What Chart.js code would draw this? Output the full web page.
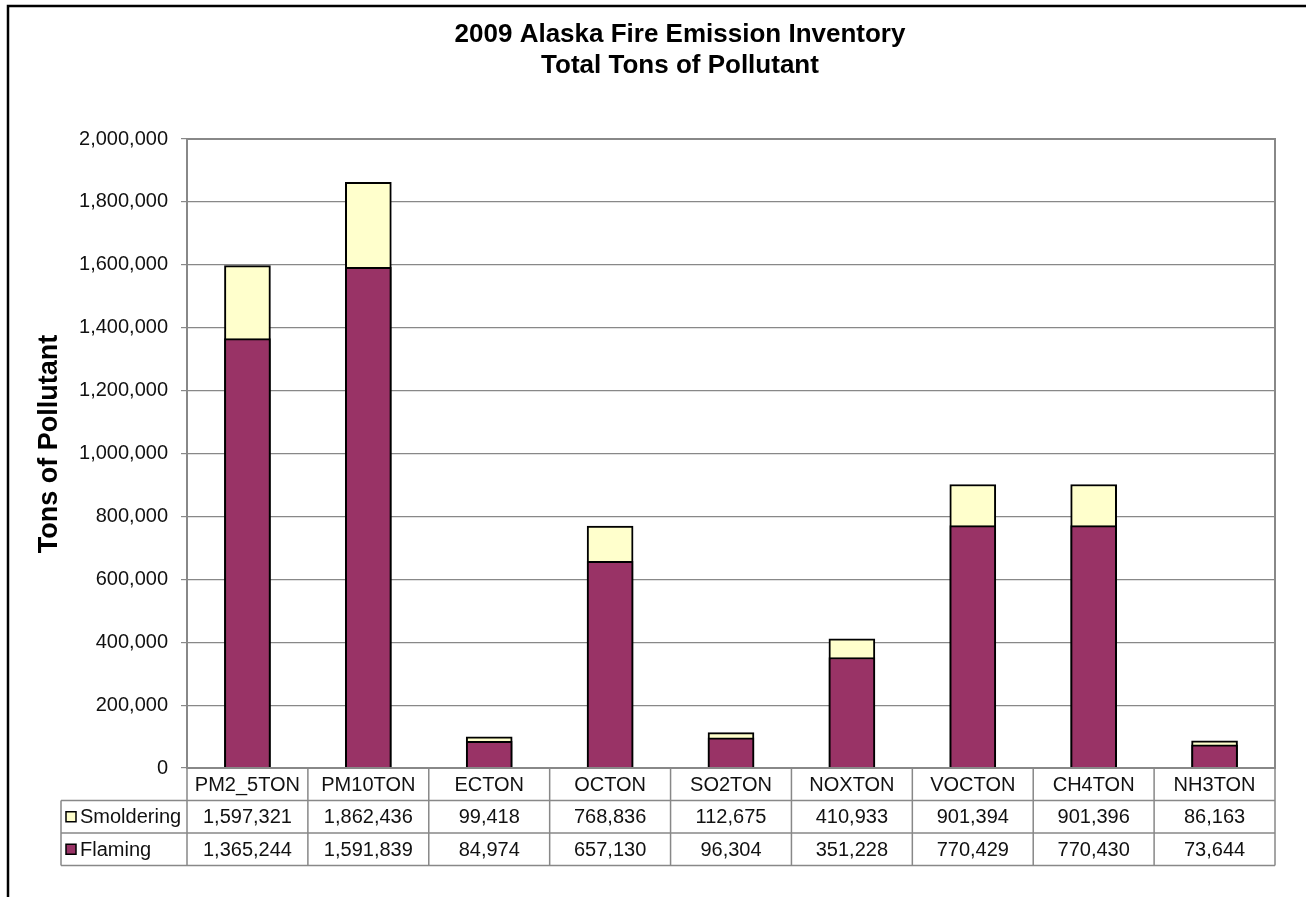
<!DOCTYPE html>
<html lang="en">
<head>
  <meta charset="UTF-8">
  <title>2009 Alaska Fire Emission Inventory</title>
  <script src="https://cdn.jsdelivr.net/npm/chart.js"></script>
  <style>
    body { margin: 0; background: #fff; }
    canvas { display: block; }
  </style>
</head>
<body>

<canvas id="emission-chart" width="1306" height="897"></canvas>

<script>
// Chart data
const categories = ['PM2_5TON', 'PM10TON', 'ECTON', 'OCTON', 'SO2TON', 'NOXTON', 'VOCTON', 'CH4TON', 'NH3TON'];
const smoldering = [1597321, 1862436, 99418, 768836, 112675, 410933, 901394, 901396, 86163];
const flaming = [1365244, 1591839, 84974, 657130, 96304, 351228, 770429, 770430, 73644];
const titleLines = ['2009 Alaska Fire Emission Inventory', 'Total Tons of Pollutant'];
const yTitle = 'Tons of Pollutant';

const FONT = "'Liberation Sans', Arial, sans-serif";
const fmt = v => v.toLocaleString('en-US');

// Draws title, axis title, data table and frame
const decorPlugin = {
  id: 'decor',
  beforeDraw(chart) {
    const ctx = chart.ctx;
    ctx.save();
    ctx.fillStyle = '#fff';
    ctx.fillRect(0, 0, chart.width, chart.height);
    ctx.restore();
  },
  afterDraw(chart) {
    const ctx = chart.ctx;
    const area = chart.chartArea;
    const n = categories.length;
    const w = (area.right - area.left) / n;
    const xs = chart.scales.x;

    ctx.save();

    // plot frame
    ctx.strokeStyle = '#888';
    ctx.lineWidth = 2;
    ctx.strokeRect(area.left, area.top, area.right - area.left, area.bottom - area.top);

    // titles
    ctx.fillStyle = '#000';
    ctx.textAlign = 'center';
    ctx.textBaseline = 'middle';
    ctx.font = 'bold 26px ' + FONT;
    ctx.fillText(titleLines[0], 680, 35);
    ctx.fillText(titleLines[1], 680, 66);

    ctx.save();
    ctx.translate(50, 444);
    ctx.rotate(-Math.PI / 2);
    ctx.font = 'bold 27px ' + FONT;
    ctx.fillText(yTitle, 0, 0);
    ctx.restore();

    // data table
    const rowH = 32.5;
    const top = area.bottom;
    const r1 = top + rowH, r2 = top + 2 * rowH, r3 = top + 3 * rowH;
    const leftCol = 61;

    ctx.strokeStyle = '#888';
    ctx.lineWidth = 1.5;
    ctx.beginPath();
    // horizontal lines
    ctx.moveTo(area.left, top); ctx.lineTo(area.right, top);
    ctx.moveTo(leftCol, r1); ctx.lineTo(area.right, r1);
    ctx.moveTo(leftCol, r2); ctx.lineTo(area.right, r2);
    ctx.moveTo(leftCol, r3); ctx.lineTo(area.right, r3);
    // vertical lines
    ctx.moveTo(leftCol, r1); ctx.lineTo(leftCol, r3);
    for (let i = 0; i <= n; i++) {
      const x = area.left + i * w;
      ctx.moveTo(x, top); ctx.lineTo(x, r3);
    }
    ctx.stroke();

    ctx.fillStyle = '#111';
    ctx.font = '20px ' + FONT;
    ctx.textAlign = 'center';
    categories.forEach((c, i) => {
      const x = xs.getPixelForValue(i);
      ctx.fillText(c, x, top + rowH / 2 + 1);
      ctx.fillText(fmt(smoldering[i]), x, r1 + rowH / 2 + 1);
      ctx.fillText(fmt(flaming[i]), x, r2 + rowH / 2 + 1);
    });

    // legend keys
    const keys = [
      { label: 'Smoldering', color: '#FFFFCC', y: r1 + rowH / 2 },
      { label: 'Flaming', color: '#993366', y: r2 + rowH / 2 }
    ];
    ctx.textAlign = 'left';
    keys.forEach(k => {
      ctx.fillStyle = k.color;
      ctx.fillRect(66, k.y - 5, 10, 10);
      ctx.strokeStyle = '#000';
      ctx.lineWidth = 1.5;
      ctx.strokeRect(66, k.y - 5, 10, 10);
      ctx.fillStyle = '#111';
      ctx.fillText(k.label, 80, k.y + 1);
    });

    // outer frame
    ctx.strokeStyle = '#000';
    ctx.lineWidth = 2.5;
    ctx.beginPath();
    ctx.moveTo(8, chart.height + 2);
    ctx.lineTo(8, 6);
    ctx.lineTo(chart.width + 2, 6);
    ctx.stroke();

    ctx.restore();
  }
};

const ctx = document.getElementById('emission-chart').getContext('2d');
const emissionChart = new Chart(ctx, {
  type: 'bar',
  data: {
    labels: categories,
    datasets: [
      {
        label: 'Flaming',
        data: flaming,
        backgroundColor: '#993366',
        borderColor: '#000',
        borderWidth: 2,
        barThickness: 46
      },
      {
        label: 'Smoldering',
        data: smoldering,
        backgroundColor: '#FFFFCC',
        borderColor: '#000',
        borderWidth: 2,
        barThickness: 46
      }
    ]
  },
  options: {
    responsive: false,
    animation: false,
    layout: {
      padding: { left: 0, top: 139, right: 31, bottom: 129 }
    },
    plugins: {
      legend: { display: false },
      tooltip: { enabled: false },
      title: { display: false }
    },
    scales: {
      x: {
        display: false,
        stacked: true
      },
      y: {
        stacked: false,
        min: 0,
        max: 2000000,
        afterFit: (scale) => { scale.width = 187; },
        ticks: {
          stepSize: 200000,
          padding: 13,
          color: '#111',
          font: { size: 20, family: FONT },
          callback: v => fmt(v)
        },
        grid: {
          color: '#888',
          lineWidth: 1.2,
          tickLength: 6
        },
        border: { color: '#888', width: 2 }
      }
    }
  },
  plugins: [decorPlugin]
});
</script>

</body>
</html>
